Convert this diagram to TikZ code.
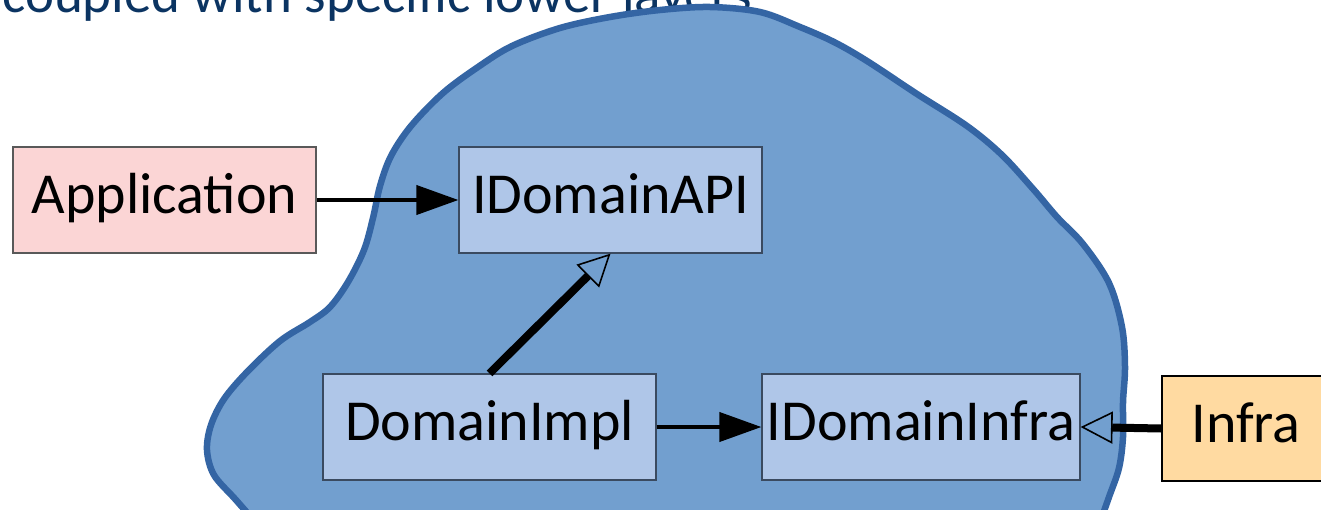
\documentclass[tikz,border=0pt]{standalone}
\usepackage{fontspec}
\setmainfont{Carlito}
\usetikzlibrary{arrows.meta}

\definecolor{titleblue}{HTML}{0B3462}
\definecolor{blobfill}{HTML}{729FCF}
\definecolor{blobline}{HTML}{3465A4}
\definecolor{domainfill}{HTML}{AFC6E8}
\definecolor{domainline}{HTML}{3A4A60}
\definecolor{appfill}{HTML}{FBD5D5}
\definecolor{infrafill}{HTML}{FFDAA1}

\tikzset{
  box/.style={draw, line width=1.2pt, inner sep=0pt, minimum height=106pt,
    text height=41pt, text depth=14pt, font=\fontsize{58}{60}\selectfont},
  domainbox/.style={box, fill=domainfill, draw=domainline},
  uses/.style={line width=4pt, -{Triangle[length=42pt, width=29pt]}},
  realizes/.style={line width=8pt,
    -{Triangle[open, length=32pt, width=32pt, line width=1.6pt]}},
  blob/.style={fill=blobfill, draw=blobline, line width=6.5pt, line join=round}
}

\begin{document}
\begin{tikzpicture}[x=1pt, y=-1pt]
\useasboundingbox (0,0) rectangle (1321,509);

% heading line running behind the domain area
\node[anchor=base west, inner sep=0pt, text=titleblue,
  font=\fontsize{55}{60}\selectfont] (heading) at (2,12)
  {coupled with specific lower layers};

% the domain area (its lower part runs below the page)
\draw[blob] plot[smooth cycle, tension=0.55] coordinates {
  (290,565) (262,530) (236,500) (214,475) (207,450) (211,425) (224,399)
  (247,372) (280,341) (310,322) (330,307) (348,282) (364,250) (373,218)
  (380,186) (391,156) (411,126) (443,93) (478,67) (512,46) (560,28)
  (610,17) (660,10) (710,7) (760,12) (800,27) (834,42) (867,61)
  (917,94) (967,126) (1002,155) (1034,190) (1057,217) (1083,244)
  (1109,283) (1122,327) (1125,367) (1123,402) (1123,437) (1119,468)
  (1109,497) (1099,525) (1086,560) (700,640)
};

% components
\node[box, fill=appfill, draw=black!65, minimum width=303pt]
  (app) at (164.5,200) {Application};
\node[domainbox, minimum width=303pt] (api) at (610.5,200) {IDomainAPI};
\node[domainbox, minimum width=333pt] (impl) at (489.5,427) {DomainImpl};
\node[domainbox, minimum width=318pt] (dinfra) at (921,427) {IDomainInfra};
\node[box, fill=infrafill, draw=black, minimum width=168pt, minimum height=105pt]
  (infra) at (1246,428.5) {Infra};

% dependencies
\draw[uses] (app.east) -- (api.west);
\draw[uses] (impl.east) -- (dinfra.west);
\draw[realizes] (impl.north) -- (api.south);
\draw[realizes] (infra.west) -- (dinfra.east);
\end{tikzpicture}
\end{document}
